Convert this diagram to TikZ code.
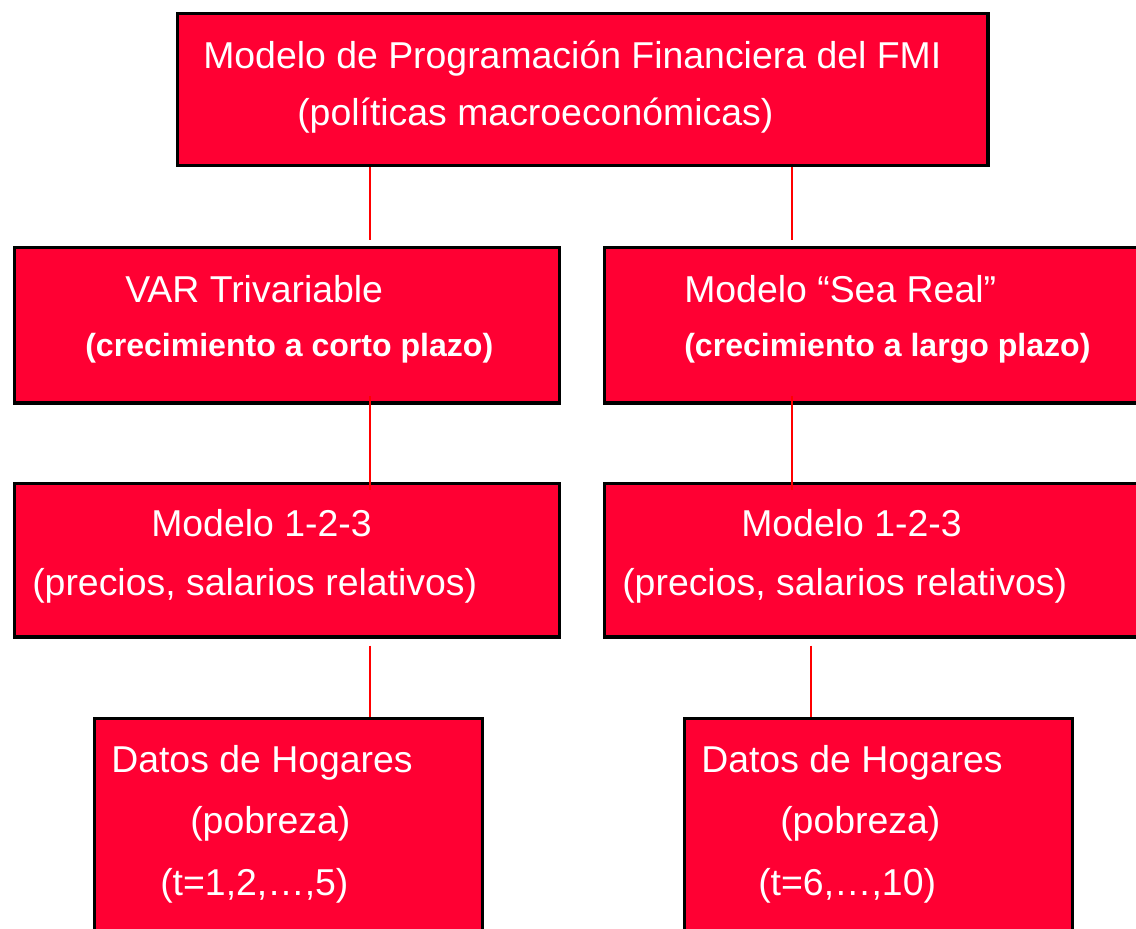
\documentclass[tikz,border=0pt]{standalone}
\usepackage{fontspec}
\setmainfont{Liberation Sans}
\usetikzlibrary{positioning,calc}
\definecolor{boxred}{RGB}{255,0,51}
\tikzset{
	box/.style={draw=black, line width=2.4pt, fill=boxred, anchor=north west, inner sep=0pt},
	txt/.style={text=white, anchor=base west, inner sep=0pt, font=\fontsize{26.6}{32}\selectfont},
	btxt/.style={txt, font=\fontsize{22.8}{28}\selectfont\bfseries},
	link/.style={draw=red, line width=1.5pt}
}
\begin{document}
\begin{tikzpicture}[x=0.025cm, y=-0.025cm]
						\useasboundingbox (0,0) rectangle (1136,928);
						\clip (0,0) rectangle (1136,928);
						% boxes
						\node[box, minimum width=20.25cm, minimum height=3.8cm] (fmi) at (176,12) {};
						\node[box, minimum width=13.62cm, minimum height=3.88cm] (var) at (13,246) {};
						\node[box, minimum width=13.5cm, minimum height=3.88cm] (sea) at (603,246) {};
						\node[box, minimum width=13.62cm, minimum height=3.83cm] (mol) at (13,482) {};
						\node[box, minimum width=13.5cm, minimum height=3.83cm] (mor) at (603,482) {};
						\node[box, minimum width=9.7cm, minimum height=5.6cm] (dhl) at (93,717) {};
						\node[box, minimum width=9.7cm, minimum height=5.6cm] (dhr) at (683,717) {};
						
						% texts
						\node[txt] (fmi1) at (203,68) {Modelo de Programación Financiera del FMI};
						\node[txt] (fmi2) at (297,125) {(políticas macroeconómicas)};
						\node[txt] (var1) at (125,302) {VAR Trivariable};
						\node[btxt] (var2) at (85,356) {(crecimiento a corto plazo)};
						\node[txt] (sea1) at (684,302) {Modelo “Sea Real”};
						\node[btxt] (sea2) at (684,356) {(crecimiento a largo plazo)};
						\node[txt] (mol1) at (151,536) {Modelo 1-2-3};
						\node[txt] (mol2) at (32,595) {(precios, salarios relativos)};
						\node[txt] (mor1) at (741,536) {Modelo 1-2-3};
						\node[txt] (mor2) at (622,595) {(precios, salarios relativos)};
						\node[txt] (dhl1) at (111,772) {Datos de Hogares};
						\node[txt] (dhl2) at (190,833) {(pobreza)};
						\node[txt] (dhl3) at (160,895) {(t=1,2,…,5)};
						\node[txt] (dhr1) at (701,772) {Datos de Hogares};
						\node[txt] (dhr2) at (780,833) {(pobreza)};
						\node[txt] (dhr3) at (758,895) {(t=6,…,10)};
						
						% connectors
						\coordinate (cl) at (370,0);
						\coordinate (cr) at (792,0);
						\coordinate (cd) at (811,0);
						\path[link]
						(fmi.south -| cl) edge [shorten >=4pt] (var.north -| cl)
						(fmi.south -| cr) edge [shorten >=4pt] (sea.north -| cr)
						(var.south -| cl) edge [shorten <=-6pt, shorten >=-6pt] (mol.north -| cl)
						(sea.south -| cr) edge [shorten <=-6pt, shorten >=-6pt] (mor.north -| cr)
						(mol.south -| cl) edge [shorten <=5pt] (dhl.north -| cl)
						(mor.south -| cd) edge [shorten <=5pt] (dhr.north -| cd);
					\end{tikzpicture}
\end{document}
